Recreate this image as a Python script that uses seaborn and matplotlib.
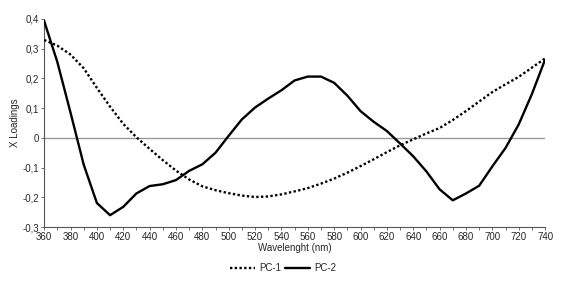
import numpy as np
import pandas as pd
import seaborn as sns
import matplotlib.pyplot as plt
from matplotlib.ticker import MultipleLocator, FuncFormatter

# wavelength grid (nm) and loadings
wavelength = list(range(360, 750, 10))
pc1 = [0.329, 0.310, 0.280, 0.234, 0.168, 0.105, 0.047, 0.002, -0.037, -0.075,
       -0.110, -0.140, -0.163, -0.176, -0.186, -0.194, -0.199, -0.197, -0.190, -0.180,
       -0.169, -0.154, -0.137, -0.117, -0.095, -0.072, -0.048, -0.025, -0.005, 0.015,
       0.033, 0.060, 0.090, 0.122, 0.154, 0.180, 0.205, 0.236, 0.267]
pc2 = [0.393, 0.255, 0.085, -0.090, -0.219, -0.260, -0.232, -0.187, -0.162, -0.156,
       -0.142, -0.111, -0.089, -0.050, 0.007, 0.062, 0.102, 0.132, 0.160, 0.193,
       0.206, 0.206, 0.185, 0.142, 0.090, 0.054, 0.023, -0.019, -0.062, -0.113,
       -0.173, -0.210, -0.187, -0.161, -0.096, -0.034, 0.045, 0.147, 0.263]

df = pd.DataFrame({'Wavelength': wavelength * 2,
                   'Loading': pc1 + pc2,
                   'PC': ['PC-1'] * len(pc1) + ['PC-2'] * len(pc2)})

sns.set_style('white')
plt.rcParams['font.family'] = ['Liberation Sans', 'DejaVu Sans']

fig = plt.figure(figsize=(5.66, 2.86), dpi=100)
ax = fig.add_axes([0.078, 0.206, 0.885, 0.728])

ax.axhline(0, color='#999999', lw=1.0, zorder=1)
sns.lineplot(data=df, x='Wavelength', y='Loading', hue='PC', style='PC',
             palette=['black', 'black'], dashes=[(1, 1), ''], linewidth=1.7,
             ax=ax, zorder=3)

ax.set_xlim(360, 740)
ax.set_ylim(-0.3, 0.4)
ax.xaxis.set_major_locator(MultipleLocator(20))
ax.xaxis.set_minor_locator(MultipleLocator(10))
ax.yaxis.set_major_locator(MultipleLocator(0.1))
fmt = FuncFormatter(lambda v, p: '0' if abs(v) < 1e-9 else f'{v:.1f}'.replace('.', ','))
ax.yaxis.set_major_formatter(fmt)

for s in ['top', 'right']:
    ax.spines[s].set_visible(False)
for s in ['left', 'bottom']:
    ax.spines[s].set_color('#555555')
    ax.spines[s].set_linewidth(0.8)

ax.tick_params(axis='both', which='major', labelsize=7, length=2.5, width=0.6,
               direction='out', pad=1, color='#555555', bottom=True, left=True)
ax.tick_params(axis='x', which='minor', length=2, width=0.6, color='#555555', bottom=True)

ax.set_xlabel('Wavelenght (nm)', fontsize=7, labelpad=1)
ax.set_ylabel('X Loadings', fontsize=7, labelpad=2)

ax.legend(loc='center', bbox_to_anchor=(0.477, -0.197), ncol=2, frameon=False,
          fontsize=7, handlelength=2.6, columnspacing=0.4, handletextpad=0.4,
          title=None)

fig.savefig('out.png', dpi=100)
